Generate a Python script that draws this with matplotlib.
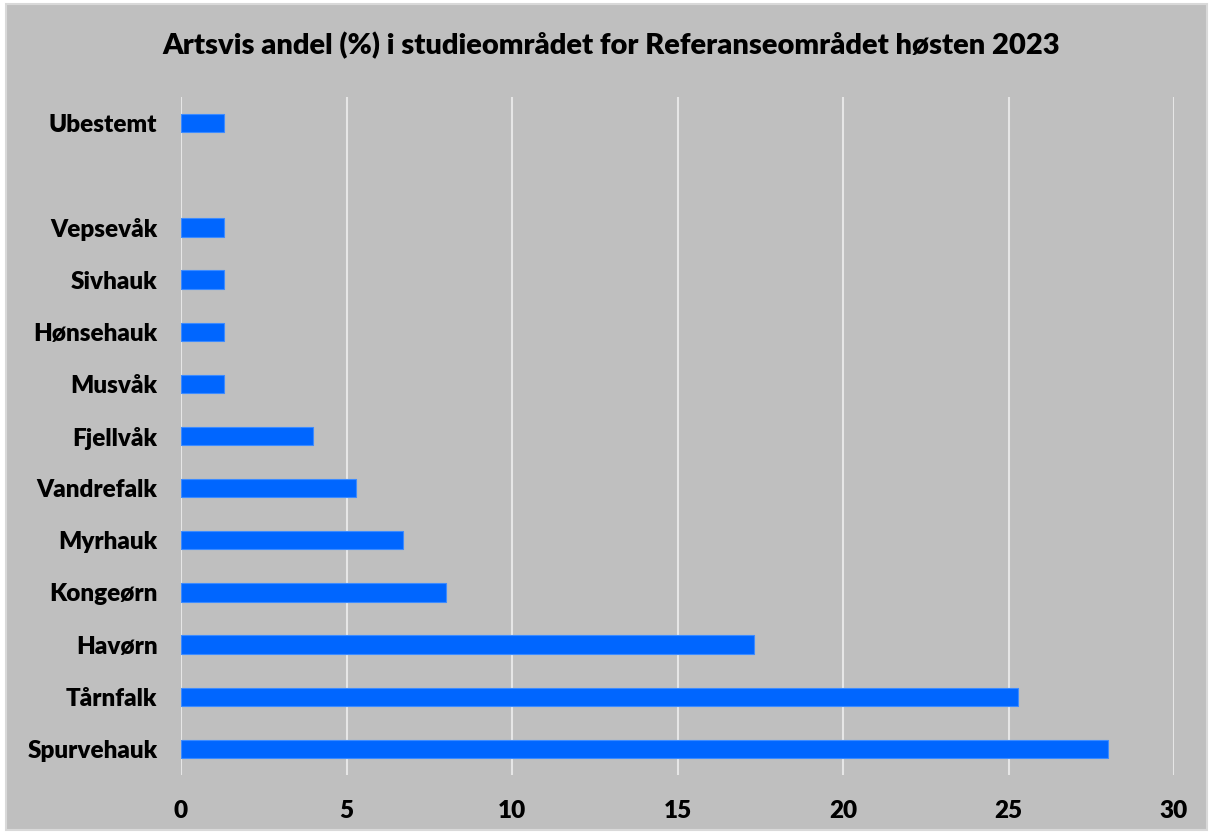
import numpy as np
import matplotlib.pyplot as plt
from matplotlib.patches import Rectangle

# Data (share in %), bottom to top
species = ['Spurvehauk', 'Tårnfalk', 'Havørn', 'Kongeørn', 'Myrhauk', 'Vandrefalk',
           'Fjellvåk', 'Musvåk', 'Hønsehauk', 'Sivhauk', 'Vepsevåk', '', 'Ubestemt']
share = [28.0, 25.3, 17.3, 8.0, 6.7, 5.3, 4.0, 1.3, 1.3, 1.3, 1.3, np.nan, 1.3]

plt.rcParams['font.family'] = ['Lato', 'DejaVu Sans']
bg = '#bfbfbf'

fig = plt.figure(figsize=(12.13, 8.34), dpi=100, facecolor='white')
fig.patches.append(Rectangle((6/1213, 4/834), 1 - 12/1213, 1 - 8/834, transform=fig.transFigure,
                             facecolor=bg, edgecolor='#d9d9d9', linewidth=1.5, zorder=-1))
ax = fig.add_axes([181/1213, 1 - 775/834, 993/1213, 678/834])
ax.set_facecolor(bg)

y = np.arange(len(species))
ax.barh(y, share, height=0.35, color='#0066ff', edgecolor='#3d8bff', linewidth=0.8, zorder=3)

ax.set_xlim(0, 30)
ax.set_ylim(-0.5, len(species) - 0.5)
ax.set_xticks(np.arange(0, 31, 5))
ax.set_yticks(y)
ax.set_yticklabels(species)
ax.grid(axis='x', color='#e6e6e6', linewidth=1.5, zorder=0)
for s in ax.spines.values():
    s.set_visible(False)
ax.tick_params(length=0, labelsize=17.5)
ax.tick_params(axis='x', pad=18)
ax.tick_params(axis='y', pad=17)
for lab in ax.get_xticklabels() + ax.get_yticklabels():
    lab.set_fontweight('heavy')

fig.text(611/1213, 1 - 46/834, 'Artsvis andel (%) i studieområdet for Referanseområdet høsten 2023',
         ha='center', va='center', fontsize=21, fontweight='heavy')

plt.savefig('out.png', dpi=100, facecolor='white')
